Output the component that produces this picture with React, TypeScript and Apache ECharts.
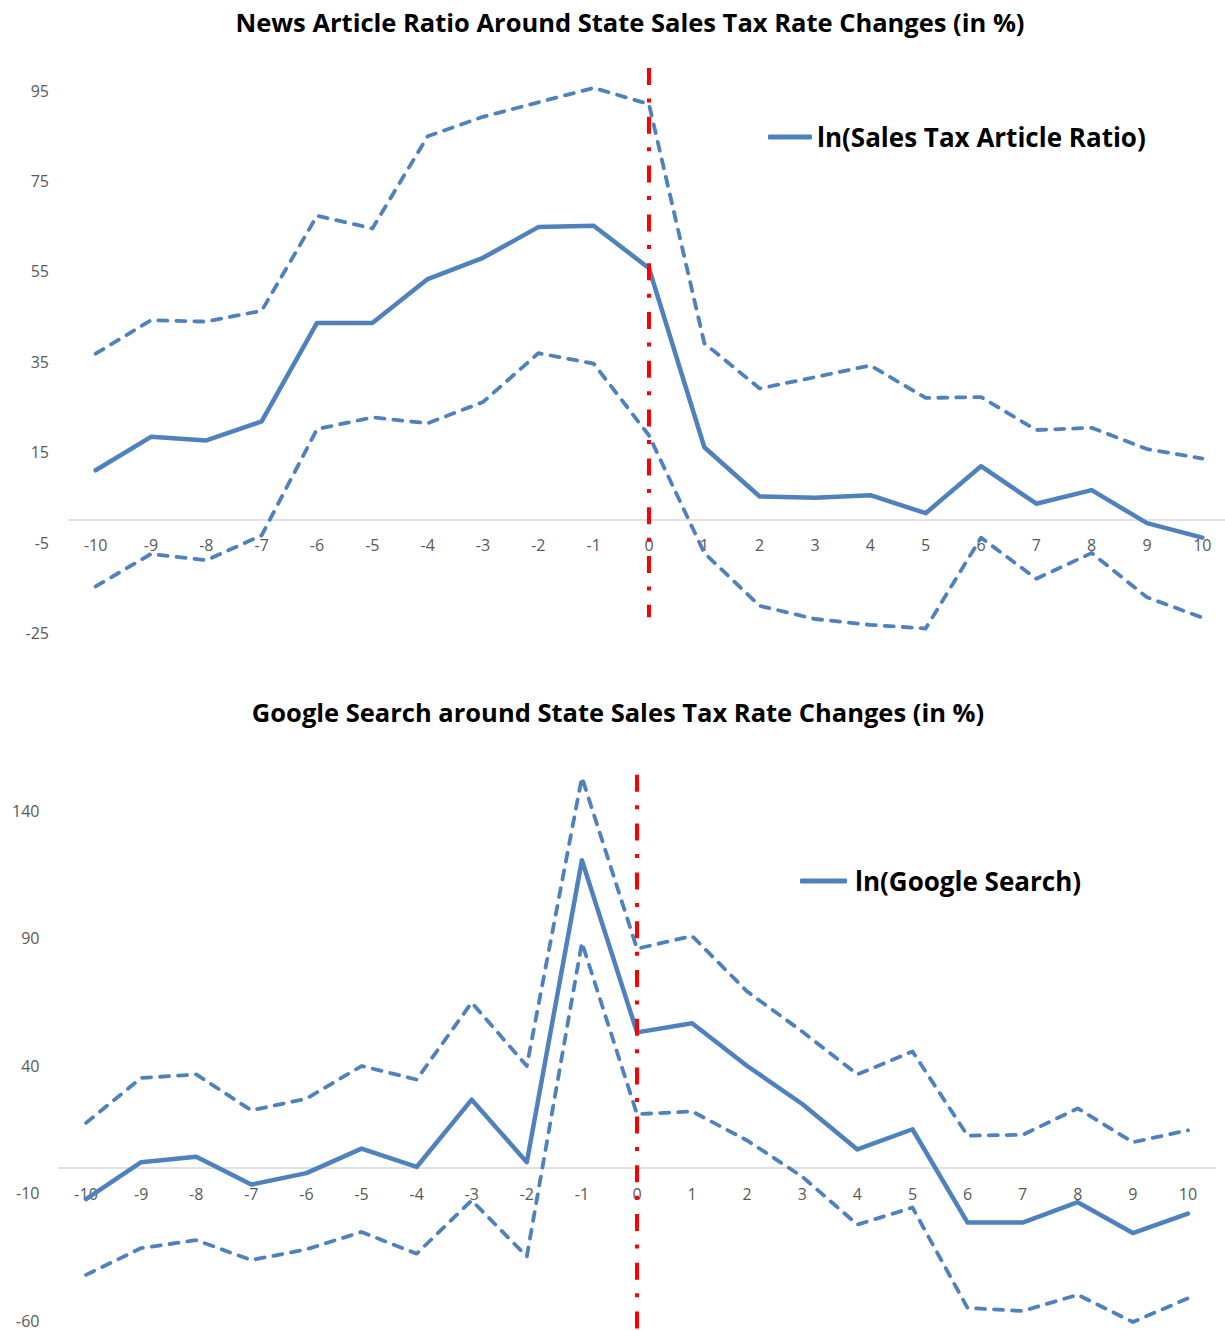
import React, { useEffect, useRef } from "react";
import * as echarts from "echarts";

const categories = ["-10","-9","-8","-7","-6","-5","-4","-3","-2","-1","0","1","2","3","4","5","6","7","8","9","10"];

const newsMain = [11.0, 18.4, 17.6, 21.8, 43.6, 43.6, 53.3, 58.0, 64.8, 65.1, 55.7, 16.1, 5.2, 4.9, 5.5, 1.5, 11.9, 3.6, 6.6, -0.7, -3.9];
const newsUpper = [36.8, 44.2, 43.9, 46.3, 67.3, 64.5, 84.9, 89.2, 92.4, 95.6, 92.0, 39.1, 29.1, 31.6, 34.2, 27.0, 27.2, 19.9, 20.4, 15.7, 13.6];
const newsLower = [-14.7, -7.5, -8.9, -3.4, 20.1, 22.7, 21.4, 26.1, 36.9, 34.6, 18.7, -7.3, -19.0, -21.9, -23.2, -24.0, -3.9, -13.0, -7.3, -17.1, -21.6];
const newsEvent = [100, -21.5];
const newsTicks = [-25, -5, 15, 35, 55, 75, 95];

const googleMain = [-12.4, 2.1, 4.2, -6.7, -2.2, 7.4, 0.2, 26.6, 2.1, 120.5, 53.0, 56.6, 39.8, 24.9, 7.1, 15.0, -21.6, -21.6, -13.6, -25.7, -18.1];
const googleUpper = [17.5, 35.1, 36.5, 22.4, 27.0, 39.8, 34.5, 64.7, 39.8, 153.0, 85.8, 90.8, 69.0, 53.3, 36.5, 45.5, 12.5, 12.8, 23.2, 9.9, 14.6];
const googleLower = [-42.1, -31.6, -28.5, -36.3, -32.1, -25.3, -33.8, -12.9, -34.9, 88.2, 20.9, 22.0, 10.6, -3.6, -22.4, -15.7, -55.1, -56.3, -49.9, -60.6, -51.3];
const googleEvent = [154, -70];
const googleTicks = [-60, -10, 40, 90, 140];

const eventCategory = "0";
const titles = [
  "News Article Ratio Around State Sales Tax Rate Changes (in %)",
  "Google Search around State Sales Tax Rate Changes (in %)",
];
const legendNames = ["ln(Sales Tax Article Ratio)", "ln(Google Search)"];

const BLUE = "#4F81BD";
const FONT = "'Open Sans', 'Liberation Sans', sans-serif";

export default function App() {
  const ref = useRef<HTMLDivElement>(null);
  useEffect(() => {
    if (!ref.current) return;
    const chart = echarts.init(ref.current, null, { renderer: "svg" });

    const xAxisBase = (gridIndex: number, labelMargin: number) => ({
      type: "category",
      gridIndex,
      data: categories,
      boundaryGap: true,
      axisLine: { onZero: true, lineStyle: { color: "#D9D9D9", width: 1.5 } },
      axisTick: { show: false },
      axisLabel: { color: "#595959", fontSize: 16, fontFamily: FONT, margin: labelMargin, interval: 0 },
      splitLine: { show: false },
    });
    const yAxisBase = (gridIndex: number, min: number, max: number, ticks: number[]) => ({
      type: "value",
      gridIndex,
      min,
      max,
      axisLine: { show: false },
      axisTick: { show: false },
      splitLine: { show: false },
      axisLabel: { color: "#595959", fontSize: 16, fontFamily: FONT, margin: 19, customValues: ticks },
    });

    const mainLine = (name: string, data: number[], idx: number) => ({
      name,
      type: "line",
      xAxisIndex: idx,
      yAxisIndex: idx,
      data,
      symbol: "none",
      lineStyle: { color: BLUE, width: 4.5, cap: "round", join: "round" },
      itemStyle: { color: BLUE },
      z: 3,
    });
    const dashLine = (name: string, data: number[], idx: number) => ({
      name,
      type: "line",
      xAxisIndex: idx,
      yAxisIndex: idx,
      data,
      symbol: "none",
      lineStyle: { color: BLUE, width: 3.8, type: [9, 9], cap: "round", join: "round" },
      itemStyle: { color: BLUE },
      z: 2,
    });
    const eventLine = (name: string, vals: number[], idx: number) => ({
      name,
      type: "line",
      xAxisIndex: idx,
      yAxisIndex: idx,
      data: vals.map((v) => [eventCategory, v]),
      symbol: "none",
      lineStyle: { color: "#FF0000", width: 4, type: [17, 13.5, 4, 14.3], cap: "butt" },
      itemStyle: { color: "#FF0000" },
      z: 4,
    });

    const titleStyle = { fontFamily: FONT, fontSize: 25.5, fontWeight: "bold", color: "#000000" };
    const legendText = { fontFamily: FONT, fontSize: 26, fontWeight: "bold", color: "#000000" };

    chart.setOption({
      animation: false,
      backgroundColor: "#FFFFFF",
      title: [
        { text: titles[0], left: 630, top: 9, textAlign: "center", padding: 0, textStyle: titleStyle },
        { text: titles[1], left: 618, top: 699, textAlign: "center", padding: 0, textStyle: titleStyle },
      ],
      legend: [
        {
          data: [legendNames[0]],
          left: 768,
          top: 124,
          padding: 0,
          icon: "roundRect",
          itemWidth: 44,
          itemHeight: 5,
          textStyle: legendText,
        },
        {
          data: [legendNames[1]],
          left: 800,
          top: 868,
          padding: 0,
          icon: "roundRect",
          itemWidth: 47,
          itemHeight: 5,
          textStyle: { ...legendText, padding: [0, 0, 0, 3] },
        },
      ],
      grid: [
        { left: 68, top: 68, width: 1162, height: 565, outerBoundsMode: "none", containLabel: false },
        { left: 58.5, top: 759.5, width: 1157, height: 586.5, outerBoundsMode: "none", containLabel: false },
      ],
      xAxis: [xAxisBase(0, -96), xAxisBase(1, -160)],
      yAxis: [yAxisBase(0, -25, 100, newsTicks), yAxisBase(1, -70, 160, googleTicks)],
      series: [
        mainLine(legendNames[0], newsMain, 0),
        dashLine("Upper bound (news)", newsUpper, 0),
        dashLine("Lower bound (news)", newsLower, 0),
        eventLine("Event (news)", newsEvent, 0),
        mainLine(legendNames[1], googleMain, 1),
        dashLine("Upper bound (search)", googleUpper, 1),
        dashLine("Lower bound (search)", googleLower, 1),
        eventLine("Event (search)", googleEvent, 1),
      ],
    });
    return () => chart.dispose();
  }, []);

  return (
    <div
      ref={ref}
      style={{ position: "absolute", left: 0, top: 0, width: 1225, height: 1330, background: "#FFFFFF" }}
    />
  );
}
